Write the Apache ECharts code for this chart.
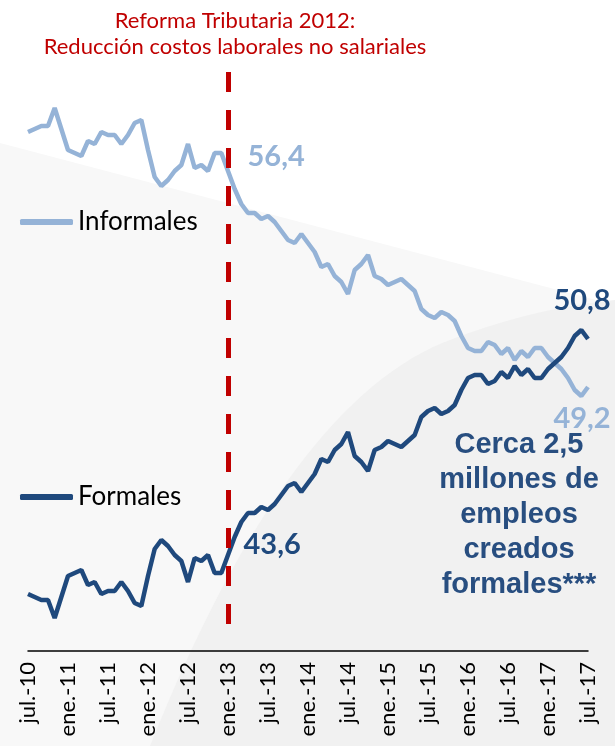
<!DOCTYPE html>
<html>
<head>
<meta charset="utf-8">
<script src="https://cdn.jsdelivr.net/npm/echarts@6/dist/echarts.min.js"></script>
<style>
  html, body { margin: 0; padding: 0; background: #fff; }
  #chart { width: 615px; height: 746px; }
</style>
</head>
<body>
<div id="chart"></div>
<script>
// meses jul-10 .. jul-17
var monthNames = ['ene', 'feb', 'mar', 'abr', 'may', 'jun', 'jul', 'ago', 'sep', 'oct', 'nov', 'dic'];
var categories = [];
for (var k = 6; k <= 7 * 12 + 6; k++) {
  var yy = 10 + Math.floor(k / 12);
  categories.push(monthNames[k % 12] + '.-' + yy);
}

// participación en el empleo (%)
var formales = [
  42.3, 42.2, 42.1, 42.1, 41.5, 42.2, 42.9, 43.0, 43.1, 42.6, 42.7, 42.3,
  42.4, 42.4, 42.7, 42.4, 42.0, 41.9, 42.9, 43.8, 44.1, 43.9, 43.6, 43.4,
  42.7, 43.5, 43.4, 43.6, 43.0, 43.0, 43.6, 44.2, 44.7, 45.0, 45.0, 45.2,
  45.1, 45.3, 45.6, 45.9, 46.0, 45.7, 46.0, 46.3, 46.8, 46.7, 47.1, 47.3,
  47.7, 46.9, 46.7, 46.4, 47.1, 47.2, 47.4, 47.3, 47.2, 47.4, 47.6, 48.2,
  48.4, 48.5, 48.3, 48.4, 48.6, 49.1, 49.5, 49.6, 49.6, 49.3, 49.4, 49.7,
  49.5, 49.9, 49.6, 49.8, 49.5, 49.5, 49.8, 50.0, 50.2, 50.5, 50.9, 51.1,
  50.8
];
var informales = [
  57.7, 57.8, 57.9, 57.9, 58.5, 57.8, 57.1, 57.0, 56.9, 57.4, 57.3, 57.7,
  57.6, 57.6, 57.3, 57.6, 58.0, 58.1, 57.1, 56.2, 55.9, 56.1, 56.4, 56.6,
  57.3, 56.5, 56.6, 56.4, 57.0, 57.0, 56.4, 55.8, 55.3, 55.0, 55.0, 54.8,
  54.9, 54.7, 54.4, 54.1, 54.0, 54.3, 54.0, 53.7, 53.2, 53.3, 52.9, 52.7,
  52.3, 53.1, 53.3, 53.6, 52.9, 52.8, 52.6, 52.7, 52.8, 52.6, 52.4, 51.8,
  51.6, 51.5, 51.7, 51.6, 51.4, 50.9, 50.5, 50.4, 50.4, 50.7, 50.6, 50.3,
  50.5, 50.1, 50.4, 50.2, 50.5, 50.5, 50.2, 50.0, 49.8, 49.5, 49.1, 48.9,
  49.2
];

var reformaMes = 'ene.-13';
var reformaIdx = categories.indexOf(reformaMes);
var lastIdx = categories.length - 1;

var colorFormal = '#1F497D';
var colorInformal = '#95B3D7';
var rojo = '#C00000';

function fmt(v) { return v.toFixed(1).replace('.', ','); }

// fondo: curva decorativa (bezier cuadrática aproximada con puntos)
function quad(p0, p1, p2, n) {
  var pts = [];
  for (var i = 0; i <= n; i++) {
    var t = i / n, a = (1 - t) * (1 - t), b = 2 * (1 - t) * t, c = t * t;
    pts.push([a * p0[0] + b * p1[0] + c * p2[0], a * p0[1] + b * p1[1] + c * p2[1]]);
  }
  return pts;
}
var curva = quad([150, 746], [280, 420], [433, 347], 30)
  .concat(quad([433, 347], [520, 310], [615, 300], 20))
  .concat([[615, 746]]);

var valueLabel = {
  show: true,
  fontFamily: 'Lato',
  fontWeight: 'bold',
  fontSize: 29
};

var option = {
  animation: false,
  backgroundColor: '#fff',
  grid: { left: 28, right: 27, top: 0, bottom: 95 },
  graphic: [
    {
      type: 'polygon', z: -10, silent: true,
      shape: { points: [[0, 143], [615, 305], [615, 746], [0, 746]] },
      style: { fill: '#F8F8F8' }
    },
    {
      type: 'polygon', z: -9, silent: true,
      shape: { points: curva },
      style: { fill: '#F1F1F1' }
    },
    {
      type: 'text', z: 10,
      style: {
        text: 'Reforma Tributaria 2012:\nReducción costos laborales no salariales',
        x: 235, y: 8, textAlign: 'center',
        fill: rojo, font: '22px Lato', lineHeight: 26
      }
    },
    {
      type: 'text', z: 10,
      style: {
        text: 'Cerca 2,5\nmillones de\nempleos\ncreados\nformales***',
        x: 519, y: 427, textAlign: 'center',
        fill: '#284E80', font: 'bold 29px "Liberation Sans"', lineHeight: 35
      }
    }
  ],
  legend: [
    {
      data: ['Informales'], left: 15, top: 204, icon: 'roundRect',
      itemWidth: 53, itemHeight: 6,
      textStyle: { fontFamily: 'Lato', fontSize: 26, color: '#000' }
    },
    {
      data: ['Formales'], left: 15, top: 479, icon: 'roundRect',
      itemWidth: 53, itemHeight: 6,
      textStyle: { fontFamily: 'Lato', fontSize: 26, color: '#000' }
    }
  ],
  xAxis: {
    type: 'category',
    data: categories,
    boundaryGap: false,
    axisTick: { show: false },
    axisLine: { lineStyle: { color: '#000', width: 1.5 } },
    axisLabel: {
      interval: 5, rotate: 90, margin: 11,
      fontFamily: 'Lato', fontSize: 22, color: '#000'
    },
    splitLine: { show: false }
  },
  yAxis: {
    type: 'value', min: 40.4, max: 62.1, show: false,
    splitLine: { show: false }
  },
  series: [
    {
      name: 'Informales',
      type: 'line',
      data: informales,
      symbol: 'none',
      lineStyle: { color: colorInformal, width: 4.5 },
      itemStyle: { color: colorInformal },
      z: 3,
      markPoint: {
        symbol: 'circle', symbolSize: 1,
        itemStyle: { color: 'rgba(0,0,0,0)' },
        data: [
          {
            coord: [reformaMes, informales[reformaIdx]],
            label: Object.assign({}, valueLabel, {
              color: colorInformal, position: 'right', offset: [14, -14],
              formatter: fmt(informales[reformaIdx])
            })
          },
          {
            coord: [categories[lastIdx], informales[lastIdx]],
            label: Object.assign({}, valueLabel, {
              color: colorInformal, position: 'bottom', distance: 17, offset: [-6, 0],
              formatter: fmt(informales[lastIdx])
            })
          }
        ]
      }
    },
    {
      name: 'Formales',
      type: 'line',
      data: formales,
      symbol: 'none',
      lineStyle: { color: colorFormal, width: 4.5 },
      itemStyle: { color: colorFormal },
      z: 4,
      markPoint: {
        symbol: 'circle', symbolSize: 1,
        itemStyle: { color: 'rgba(0,0,0,0)' },
        data: [
          {
            coord: [reformaMes, formales[reformaIdx]],
            label: Object.assign({}, valueLabel, {
              color: colorFormal, position: 'right', offset: [10, -10],
              formatter: fmt(formales[reformaIdx])
            })
          },
          {
            coord: [categories[lastIdx], formales[lastIdx]],
            label: Object.assign({}, valueLabel, {
              color: colorFormal, position: 'top', distance: 23, offset: [-6, 0],
              formatter: fmt(formales[lastIdx])
            })
          }
        ]
      },
      // línea de la reforma
      markLine: {
        silent: true,
        symbol: ['none', 'none'],
        label: { show: false },
        lineStyle: { color: rojo, width: 5, type: [20, 18], opacity: 1 },
        data: [[
          { coord: [reformaMes, 59.7] },
          { coord: [reformaMes, 41.0] }
        ]]
      }
    }
  ]
};

var myChart = echarts.init(document.getElementById('chart'));
myChart.setOption(option);
</script>
</body>
</html>
